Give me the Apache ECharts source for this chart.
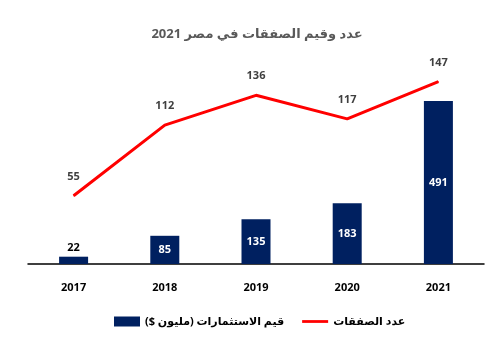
<!DOCTYPE html>
<html><head><meta charset="utf-8">
<script src="https://cdn.jsdelivr.net/npm/echarts@6/dist/echarts.min.js"></script>
<style>html,body{margin:0;padding:0;background:#fff}#c{width:487px;height:364px}</style>
</head><body><div id="c"></div>
<script>
const categories = ['2017','2018','2019','2020','2021'];
const investValues = [22, 85, 135, 183, 491];
const dealCounts = [55, 112, 136, 117, 147];
const titleText = 'عدد وقيم الصفقات في مصر 2021';
const barName = 'قيم الاستثمارات (مليون $)';
const lineName = 'عدد الصفقات';

const FONT = "'Open Sans', 'DejaVu Sans', sans-serif";
const chart = echarts.init(document.getElementById('c'));
chart.setOption({
  animation: false,
  textStyle: {fontFamily: FONT},
  title: {text: titleText, left: 252, textAlign: 'center', top: 23,
    textStyle: {fontSize: 13, fontWeight: 'bold', color: '#595959', fontFamily: FONT}},
  legend: {top: 311, left: 109, itemGap: 18, itemWidth: 26, itemHeight: 10,
    data: [{name: barName, icon: 'rect'}, {name: lineName, icon: 'path://M0,0L28,0L28,3L0,3Z', itemStyle: {color: '#FF0000'}}],
    textStyle: {fontSize: 11, fontWeight: 'bold', color: '#000', fontFamily: FONT}},
  grid: {left: 28, right: 3, top: 40, bottom: 100, containLabel: false},
  xAxis: {type: 'category', data: categories,
    axisLine: {lineStyle: {color: '#000', width: 1.5}}, axisTick: {show: false},
    axisLabel: {margin: 18, fontSize: 11, fontWeight: 'bold', color: '#000', fontFamily: FONT}},
  yAxis: [
    {type: 'value', min: 0, max: 675, show: false, splitLine: {show: false}},
    {type: 'value', min: 0, max: 180.6, show: false, splitLine: {show: false}}
  ],
  series: [
    {name: barName, type: 'bar', yAxisIndex: 0, barWidth: 29,
      itemStyle: {color: '#002060'},
      data: investValues.map((v, i) => i === 0 ? {value: v, label: {position: 'top', color: '#000', distance: 3}} : v),
      label: {show: true, position: 'inside', color: '#fff', fontSize: 11, fontWeight: 'bold', fontFamily: FONT}},
    {name: lineName, type: 'line', yAxisIndex: 1, data: dealCounts,
      symbol: 'circle', symbolSize: 1, showSymbol: true,
      lineStyle: {color: '#FF0000', width: 3}, itemStyle: {color: '#FF0000'},
      label: {show: true, position: 'top', distance: 13, color: '#404040', fontSize: 11, fontWeight: 'bold', fontFamily: FONT}}
  ]
});
</script></body></html>
